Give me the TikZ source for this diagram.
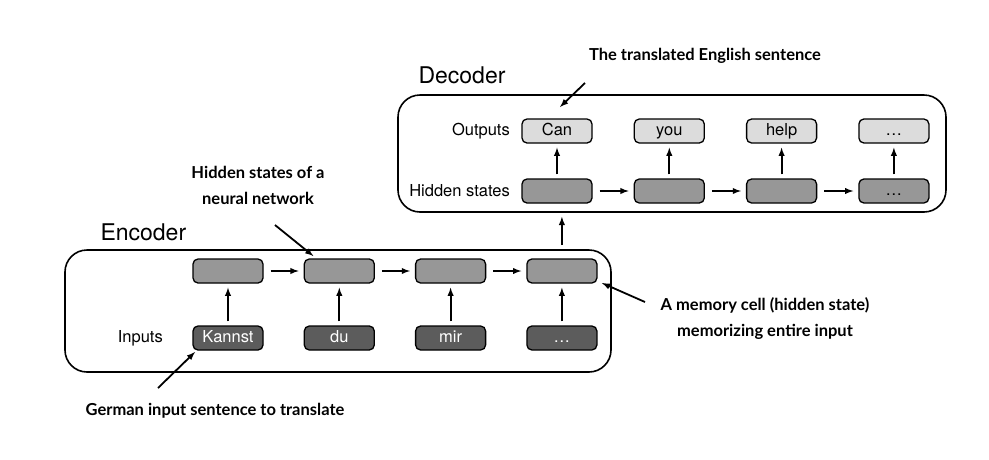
\documentclass[tikz,border=0pt]{standalone}
\usepackage{fontspec}
\setmainfont{TeX Gyre Heros}
\newfontfamily\notefont{Lato}
\usetikzlibrary{arrows,positioning}
\definecolor{lightcell}{HTML}{DCDCDC}
\definecolor{midcell}{HTML}{979797}
\definecolor{darkcell}{HTML}{5C5C5C}
\tikzstyle{cell} = [draw, rounded corners=5pt, line width=1.3pt, minimum width=70pt, minimum height=24pt, inner sep=0pt, text height=11.5pt, text depth=3pt, font=\fontsize{16.5}{16.5}\selectfont]
\tikzstyle{hidcell} = [cell, fill=midcell]
\tikzstyle{incell} = [cell, fill=darkcell, text=white]
\tikzstyle{outcell} = [cell, fill=lightcell]
\tikzstyle{frame} = [draw, rounded corners=22pt, line width=1.6pt, inner sep=0pt]
\tikzstyle{rowlabel} = [draw=none, font=\fontsize{16.5}{16.5}\selectfont]
\tikzstyle{note} = [draw=none, align=center, font=\notefont\bfseries\fontsize{16.5}{26}\selectfont]
\tikzstyle{link} = [-latex, line width=1.8pt]

\begin{document}
\begin{tikzpicture}[x=1pt,y=-1pt]
		\useasboundingbox (0,0) rectangle (989,459);
		
		% encoder
		\node[frame, minimum width=546pt, minimum height=122pt] (enc) at (338,311) {};
		\node[draw=none, anchor=west, font=\fontsize{23}{23}\selectfont] (enclabel) at (97,232) {Encoder};
		\node[hidcell] (e1) at (228,271) {};
		\node[hidcell, right=40pt of e1] (e2) {};
		\node[hidcell, right=40pt of e2] (e3) {};
		\node[hidcell, right=40pt of e3] (e4) {};
		\node[incell] (i1) at (228,338) {Kannst};
		\node[incell, right=40pt of i1] (i2) {du};
		\node[incell, right=40pt of i2] (i3) {mir};
		\node[incell, right=40pt of i3] (i4) {\dots};
		\node[rowlabel, left=26pt of i1] (inlabel) {Inputs};
		
		% decoder
		\node[frame, minimum width=548pt, minimum height=117pt] (dec) at (672,153.5) {};
		\node[draw=none, anchor=west, font=\fontsize{23}{23}\selectfont] (declabel) at (415,75) {Decoder};
		\node[hidcell] (d1) at (557,191) {};
		\node[hidcell, right=41pt of d1] (d2) {};
		\node[hidcell, right=41pt of d2] (d3) {};
		\node[hidcell, right=41pt of d3] (d4) {\dots};
		\node[outcell] (o1) at (557,131) {Can};
		\node[outcell, right=41pt of o1] (o2) {you};
		\node[outcell, right=41pt of o2] (o3) {help};
		\node[outcell, right=41pt of o3] (o4) {\dots};
		\node[rowlabel, left=8pt of o1] (outlabel) {Outputs};
		\node[rowlabel, left=8pt of d1] (hidlabel) {Hidden states};
		
		% arrows
		\foreach \a/\b in {e1/e2,e2/e3,e3/e4,d1/d2,d2/d3,d3/d4}
		\draw[link, shorten <=7pt, shorten >=5pt] (\a.east) -- (\b.west);
		\foreach \a/\b in {i1/e1,i2/e2,i3/e3,i4/e4,d1/o1,d2/o2,d3/o3,d4/o4}
		\draw[link, shorten <=4pt, shorten >=4pt] (\a.north) -- (\b.south);
		\draw[link, shorten <=4pt, shorten >=4pt] (enc.north -| e4) -- (dec.south -| e4);
		
		% notes
		\node[note] (transnote) at (705,56) {The translated English sentence};
		\node[note] (hidnote) at (258,185) {Hidden states of a\\neural network};
		\node[note] (memnote) at (765,319) {A memory cell (hidden state)\\memorizing entire input};
		\node[note] (gernote) at (215,411) {German input sentence to translate};
		\draw[link] ([shift={(-120,27)}]transnote.center) -- ([shift={(3,-24)}]o1.center);
		\draw[link] ([shift={(17,40)}]hidnote.center) -- ([shift={(-26,-15)}]e2.center);
		\draw[link] ([shift={(-120,-17)}]memnote.center) -- ([shift={(40,12)}]e4.center);
		\draw[link] ([shift={(-57,-23)}]gernote.center) -- ([shift={(-33,14)}]i1.center);
	\end{tikzpicture}
\end{document}
